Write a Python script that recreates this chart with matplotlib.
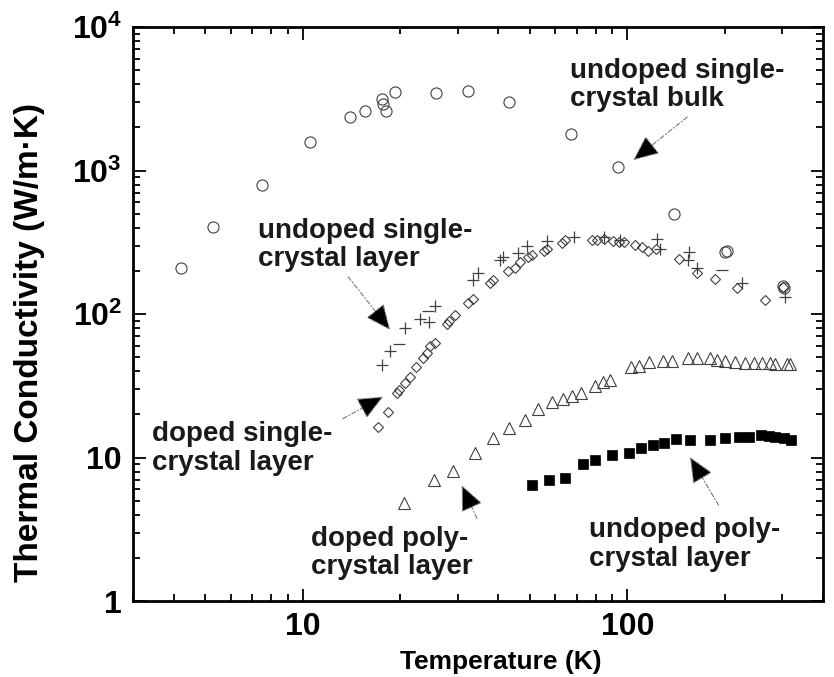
import matplotlib
matplotlib.use('Agg')
import matplotlib.pyplot as plt
from matplotlib.ticker import FixedLocator, FixedFormatter, NullFormatter

plt.rcParams['font.family'] = ['Liberation Sans', 'DejaVu Sans']
plt.rcParams['font.weight'] = 'bold'

# ---------------- data ----------------
T_bulk = [4.22, 5.29, 7.49, 10.5, 14.0, 15.5, 17.5, 17.7, 18.1, 19.2, 25.7, 32.4,
          43.3, 67.2, 93.6, 139.6, 200.6, 203, 301, 303]
k_bulk = [208, 406, 792, 1588, 2349, 2612, 3133, 2906, 2612, 3540, 3450, 3596,
          2986, 1796, 1052, 495, 269, 275, 157, 152]

T_dsc = [17.1, 18.3, 19.5, 19.8, 20.6, 21.4, 22.4, 23.4, 24.1, 24.7, 25.5, 27.8,
         28.3, 29.4, 32.4, 33.5, 37.8, 38.6, 43.0, 45.1, 46.8, 49.6, 50.8, 55.2,
         56.6, 62.9, 64.4, 77.8, 80.5, 84.9, 90.6, 94.0, 97.6, 105.8, 111, 115.5,
         122.6, 143.9, 164, 186, 217, 265, 302]
k_dsc = [16.4, 20.7, 28.0, 29.5, 32.9, 36.6, 43.0, 49.1, 53.2, 59.8, 63, 86,
         90, 98.4, 119, 128, 164, 173, 200, 211, 232, 251, 257, 276,
         286, 314, 328, 328, 328, 333, 322, 319, 319, 303, 294, 276,
         286, 244, 192, 175, 151, 125, 155]

T_usc = [17.6, 18.6, 20.7, 23.0, 24.5, 25.5, 33.5, 34.7, 40.5, 41.3, 46.2, 49.2,
         56.6, 68.3, 84.9, 95.0, 123.3, 126.3, 154.6, 154, 164, 225, 306]
k_usc = [44.1, 55.2, 79.5, 91.8, 88.4, 114, 173, 192, 238, 251, 265, 299,
         323, 346, 346, 328, 333, 286, 272, 238, 211, 165, 132]
T_usc_dash = [19.8, 24.3, 196]
k_usc_dash = [61.5, 105, 203]

T_dpc = [20.5, 25.4, 29.1, 34.0, 38.5, 43.3, 48.4, 53.2, 58.6, 63.2, 67.6, 72.0,
         79.6, 84.1, 88.3, 102.7, 108.5, 116.4, 128.8, 137.6, 153.6, 164.3, 179.5,
         189, 200.6, 215, 231, 246.5, 260, 276, 286, 311, 318]
k_dpc = [4.84, 6.97, 8.05, 10.7, 13.6, 16.0, 18.3, 22.0, 24.5, 25.8, 26.8, 28.0,
         31.5, 33.4, 34.7, 42.5, 43.4, 46.5, 47.3, 47.3, 49.6, 49.6, 49.6,
         47.8, 47.3, 46.5, 45.8, 45.8, 45.8, 45.4, 44.8, 44.8, 45]

T_upc = [50.8, 57.2, 64.4, 72.9, 79.6, 89.7, 100.9, 110.2, 120, 130, 141.5, 155.6,
         180.3, 200.6, 220.5, 237, 257.3, 273, 286, 304, 319]
k_upc = [6.43, 6.97, 7.16, 9.01, 9.6, 10.4, 10.7, 11.6, 12.2, 12.7, 13.4, 13.2,
         13.2, 13.6, 14.0, 14.0, 14.35, 14.1, 13.9, 13.6, 13.2]

x_ticks = [10, 100]
x_ticklabels = ['10', '100']
y_ticks = [1, 10, 100, 1000, 10000]
y_ticklabels = ['1', '10', r'$\mathdefault{10^{2}}$', r'$\mathdefault{10^{3}}$',
                r'$\mathdefault{10^{4}}$']

labels = ["undoped single-\ncrystal bulk", "undoped single-\ncrystal layer",
          "doped single-\ncrystal layer", "doped poly-\ncrystal layer",
          "undoped poly-\ncrystal layer"]
label_pos = [(66.7, 3945), (7.26, 303), (3.44, 11.6), (10.6, 2.16), (76, 2.49)]
arrow_tip = [(104.3, 1183), (18.6, 77.5), (17.7, 26.6), (30.9, 6.43), (156, 10.1)]
arrow_tail = [(153, 2361), (13.8, 182), (13.3, 18.7), (34.4, 3.77), (191, 4.67)]

# ---------------- figure ----------------
fig = plt.figure(figsize=(8.34, 6.77), dpi=100)
ax = fig.add_axes([0.1595, 0.112, 0.827, 0.848])
ax.set_xscale('log')
ax.set_yscale('log')
ax.set_xlim(3, 400)
ax.set_ylim(1, 1e4)

ec = '#404040'
ax.plot(T_bulk, k_bulk, 'o', ms=8, mfc='none', mec=ec, mew=0.8)
ax.plot(T_dsc, k_dsc, 'D', ms=5.5, mfc='none', mec=ec, mew=0.8)
ax.plot(T_usc, k_usc, '+', ms=8, mec=ec, mew=0.9)
ax.plot(T_usc_dash, k_usc_dash, '_', ms=8, mec=ec, mew=0.9)
ax.plot(T_dpc, k_dpc, '^', ms=8, mfc='none', mec=ec, mew=0.8)
ax.plot(T_upc, k_upc, 's', ms=6.5, mfc='black', mec='black', mew=0.5)

for txt, pos in zip(labels, label_pos):
    ax.text(pos[0], pos[1], txt, fontsize=20, fontweight='bold', color='#1a1a1a',
            ha='left', va='center', linespacing=1.12)
for tip, tail in zip(arrow_tip, arrow_tail):
    ax.annotate('', xy=tip, xytext=tail,
                arrowprops=dict(arrowstyle='-|>,head_length=0.9,head_width=0.4',
                                mutation_scale=18, lw=0.8, ls=(0, (4, 2, 1, 2)),
                                ec='#777777', fc='black', shrinkA=0, shrinkB=0))

ax.xaxis.set_major_locator(FixedLocator(x_ticks))
ax.xaxis.set_major_formatter(FixedFormatter(x_ticklabels))
ax.xaxis.set_minor_formatter(NullFormatter())
ax.yaxis.set_major_locator(FixedLocator(y_ticks))
ax.yaxis.set_major_formatter(FixedFormatter(y_ticklabels))
ax.yaxis.set_minor_formatter(NullFormatter())

ax.tick_params(which='both', direction='in', top=True, right=True, width=1.3,
               colors='black')
ax.tick_params(which='major', length=9, labelsize=23, pad=8)
ax.tick_params(which='minor', length=5)
for lab in ax.get_xticklabels() + ax.get_yticklabels():
    lab.set_fontweight('bold')
for s in ax.spines.values():
    s.set_linewidth(2)

ax.set_xlabel('Temperature (K)', fontsize=19, fontweight='bold')
ax.xaxis.set_label_coords(0.533, -0.085)
ax.set_ylabel('Thermal Conductivity (W/m·K)', fontsize=24, fontweight='bold')
ax.yaxis.set_label_coords(-0.128, 0.451)

fig.savefig('out.png', dpi=100)
